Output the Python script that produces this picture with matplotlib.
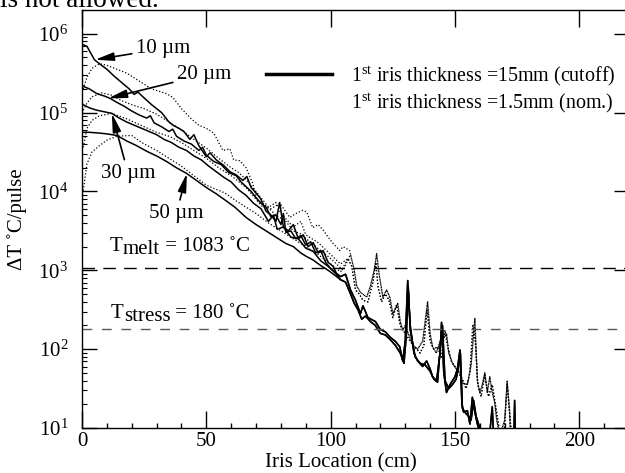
import numpy as np
import matplotlib.pyplot as plt
from matplotlib.lines import Line2D
from matplotlib.transforms import offset_copy

# --- cutoff (1st iris = 15 mm), solid lines: x in cm, log10(dT) ---
cut10_x = [0.5, 2, 5, 7, 10, 13, 16, 19, 21, 22.5, 24.5, 28, 32, 35, 36.6, 39, 41, 43.4, 45, 47, 50, 51.5,
           54, 57, 59.5, 62, 64.7, 66.3, 68, 70, 72, 74, 76, 78, 79.5, 81, 83, 85, 87, 89, 91, 93, 95, 97,
           99, 101, 102.5]
cut10_log = [5.86, 5.84, 5.67, 5.62, 5.55, 5.46, 5.38, 5.30, 5.23, 5.26, 5.20, 5.10, 5.00, 4.88, 4.84, 4.80,
             4.76, 4.66, 4.72, 4.58, 4.44, 4.49, 4.40, 4.33, 4.25, 4.21, 4.14, 4.19, 4.05, 3.98, 3.90, 3.75,
             3.70, 3.62, 3.86, 3.55, 3.50, 3.58, 3.40, 3.45, 3.30, 3.35, 3.22, 3.25, 3.10, 3.05, 2.95]

cut20_x = [0, 3, 6, 9, 11.3, 14, 17, 20, 23, 26, 27.5, 29, 32, 35, 36.5, 38, 41, 44, 47, 48.5, 50, 53, 56,
           59, 62, 64, 66, 68, 70, 72, 74, 76, 78, 80, 81, 82, 84, 86, 88, 90, 92, 94, 96, 98, 100, 102]
cut20_log = [5.34, 5.30, 5.24, 5.21, 5.18, 5.13, 5.08, 5.02, 4.97, 4.93, 4.96, 4.87, 4.82, 4.76, 4.79, 4.70,
             4.64, 4.60, 4.52, 4.56, 4.46, 4.38, 4.34, 4.24, 4.20, 4.12, 4.06, 4.00, 3.92, 3.85, 3.80, 3.68,
             3.70, 3.58, 3.72, 3.48, 3.50, 3.40, 3.44, 3.32, 3.36, 3.22, 3.25, 3.10, 3.02, 2.96]

cut30_x = [0.5, 3, 6, 9, 12, 15, 18, 21, 24, 27, 30, 33, 36, 39, 42, 45, 48, 51, 54, 57, 60, 63, 66, 69,
           72, 75, 77, 78.5, 81, 84, 87, 90, 93, 96, 99, 102]
cut30_log = [5.10, 5.06, 5.03, 5.01, 4.99, 4.93, 4.88, 4.84, 4.80, 4.76, 4.72, 4.66, 4.62, 4.56, 4.52, 4.45,
             4.40, 4.32, 4.25, 4.18, 4.12, 4.02, 3.95, 3.85, 3.78, 3.62, 3.70, 3.52, 3.55, 3.42, 3.40, 3.28,
             3.24, 3.12, 3.05, 2.97]

cut50_x = [0, 3, 7, 10, 14, 18, 22, 26, 30, 34, 38, 42, 46, 50, 54, 58, 61.5, 66, 70, 74, 78, 80, 82, 85,
           88, 90, 93, 96, 99, 102]
cut50_log = [4.75, 4.75, 4.74, 4.73, 4.71, 4.64, 4.58, 4.51, 4.45, 4.38, 4.30, 4.23, 4.14, 4.05, 3.97, 3.88,
             3.80, 3.67, 3.58, 3.50, 3.42, 3.38, 3.34, 3.30, 3.22, 3.18, 3.13, 3.06, 3.00, 2.93]

# merged noisy tails of the solid curves
cut_tailA_x = [104, 106, 108, 110, 112, 113, 115, 118, 120, 122, 124, 126, 127.8, 129, 130, 131, 132, 133.5,
               135, 137, 138.6, 140, 141, 142.6, 144, 144.6, 145.5, 146.6, 148, 150, 151, 152, 152.8, 153.5,
               155, 156, 157, 158, 159, 160, 161, 163, 165, 166, 173.5, 174, 174.5]
cut_tailA_log = [2.92, 2.95, 2.75, 2.62, 2.45, 2.55, 2.40, 2.35, 2.25, 2.22, 2.15, 2.10, 2.03, 1.85, 2.10,
                 2.87, 2.30, 1.95, 1.85, 1.78, 1.85, 1.75, 1.65, 1.60, 1.95, 2.34, 1.70, 1.45, 1.55, 1.65,
                 1.75, 1.99, 1.30, 1.20, 1.22, 1.05, 1.39, 1.20, 1.05, 0.95, 0.6, 0.6, 1.27, 0.6, 0.6, 1.35,
                 0.6]
cut_tailB_x = [104, 106, 108, 109.5, 111, 112.5, 114, 116, 118, 120, 122, 124, 126, 128, 129.5, 130.5, 131.2,
               132, 134, 136, 138, 140, 141.5, 143, 144.3, 145, 146, 147.5, 149, 150.5, 151.5, 152.2, 153,
               154.5, 155.5, 156.5, 157.5, 158.5, 159.5, 160.5, 161]
cut_tailB_log = [2.88, 2.85, 2.70, 2.58, 2.50, 2.38, 2.42, 2.35, 2.30, 2.20, 2.18, 2.12, 2.05, 1.95, 1.82,
                 2.20, 2.80, 2.25, 1.90, 1.82, 1.80, 1.72, 1.62, 1.58, 2.10, 2.30, 1.60, 1.50, 1.55, 1.62,
                 1.80, 1.95, 1.25, 1.18, 1.15, 1.10, 1.35, 1.15, 1.05, 0.95, 0.6]

# --- nominal (1st iris = 1.5 mm), dotted lines ---
nom10_x = [0.5, 2, 4, 7, 10, 14, 18, 21, 25, 28, 31, 34, 36.6, 40, 44, 47, 50, 53, 55, 56.7, 59.5, 61,
           63.5, 66, 68.7, 70.3, 72.7, 76, 79.6, 83.6, 86, 88.8, 90.4, 92.8, 95, 97, 99, 101, 103.7, 105,
           107.7]
nom10_log = [5.30, 5.45, 5.56, 5.62, 5.60, 5.55, 5.50, 5.44, 5.36, 5.30, 5.27, 5.24, 5.19, 5.05, 4.92, 4.84,
             4.80, 4.74, 4.62, 4.52, 4.54, 4.40, 4.39, 4.30, 4.10, 3.89, 3.80, 3.78, 3.85, 3.67, 3.72, 3.76,
             3.74, 3.54, 3.58, 3.51, 3.42, 3.34, 3.25, 3.30, 3.25]

nom20_x = [0.5, 2, 4, 8, 12, 16, 20, 25, 30, 35, 40, 45, 50, 55, 60, 63, 66, 70, 75, 78, 80, 85, 88, 90,
           95, 100, 104]
nom20_log = [5.03, 5.12, 5.20, 5.25, 5.22, 5.15, 5.10, 5.05, 4.98, 4.88, 4.78, 4.66, 4.55, 4.42, 4.30, 4.24,
             4.15, 4.00, 3.80, 3.86, 3.72, 3.55, 3.62, 3.45, 3.35, 3.20, 3.08]

nom30_x = [0.5, 2, 4, 7, 12, 18, 25, 30, 35, 40, 45, 50, 55, 60, 66, 70, 74, 78, 82, 85, 88, 92, 96, 100,
           105]
nom30_log = [4.56, 4.80, 4.90, 4.96, 4.99, 4.92, 4.82, 4.75, 4.70, 4.62, 4.52, 4.42, 4.30, 4.20, 4.05, 3.90,
             3.82, 3.70, 3.62, 3.50, 3.46, 3.35, 3.25, 3.15, 3.00]

nom50_x = [0.5, 2, 4, 7, 10, 14, 20, 24, 30, 35, 40, 45, 50, 57.5, 62, 66, 70, 75, 80, 85, 90, 95, 100, 104]
nom50_log = [4.01, 4.35, 4.50, 4.58, 4.65, 4.70, 4.71, 4.62, 4.52, 4.42, 4.32, 4.20, 4.08, 3.98, 3.88, 3.80,
             3.72, 3.60, 3.50, 3.40, 3.30, 3.20, 3.08, 2.98]

nom_tailA_x = [108, 109.5, 110.5, 112, 114.5, 116, 117.5, 118.5, 119.5, 121, 122.5, 123.8, 125, 127, 128, 129,
               130, 131.8, 133, 135, 137, 138, 139, 140, 141, 142.5, 144, 145.5, 146.6, 147.5, 149, 150.5,
               152, 153, 155, 156.5, 158, 159, 160, 161, 162, 163, 164, 164.8, 166, 166.8, 168, 170, 171,
               172, 172.4]
nom_tailA_log = [3.20, 3.00, 2.80, 2.72, 2.66, 2.80, 3.00, 3.21, 2.95, 2.66, 2.75, 2.66, 2.45, 2.58, 2.35,
                 2.24, 2.30, 2.15, 2.05, 2.00, 2.10, 2.35, 2.60, 2.20, 2.03, 1.95, 2.10, 2.15, 2.20, 1.95,
                 1.82, 1.75, 1.70, 1.57, 1.55, 1.80, 2.39, 1.60, 1.45, 1.55, 1.70, 1.45, 1.65, 1.48, 1.32,
                 1.10, 0.90, 1.10, 1.60, 1.20, 0.80]
nom_tailB_x = [107, 108.5, 110, 111.5, 113, 115, 117, 118.2, 119, 120.5, 122, 123.5, 125, 126.5, 128, 130,
               132, 134, 136, 137.5, 138.8, 140, 141.5, 143, 144.5, 146, 147, 148.5, 150, 151.5, 153, 154.5,
               156, 157.2, 158.2, 159.2, 160.5, 162, 163.5, 165, 166.5, 168, 169.5, 171, 172.5, 173.5]
nom_tailB_log = [3.15, 3.05, 2.75, 2.70, 2.62, 2.60, 2.85, 3.10, 2.80, 2.60, 2.70, 2.62, 2.40, 2.56, 2.30,
                 2.20, 2.10, 2.02, 1.95, 2.05, 2.50, 2.10, 2.00, 2.03, 1.90, 2.24, 2.05, 1.85, 1.78, 1.70,
                 1.62, 1.50, 1.70, 2.30, 2.10, 1.55, 1.40, 1.67, 1.40, 1.55, 1.25, 0.95, 0.80, 1.55, 1.00,
                 0.70]

T_melt = 1083
T_stress = 180

# curve labels: text, text position (x, log), arrow head (x, log)
gap_labels = ["10 \u00b5m", "20 \u00b5m", "30 \u00b5m", "50 \u00b5m"]
gap_text_pos = [(21.7, 5.81), (38.2, 5.48), (7.6, 4.23), (27.0, 3.72)]
gap_arrow_head = [(5.2, 5.67), (10.5, 5.18), (12.0, 4.99), (42.2, 4.23)]

FS = 15


def chain_text(fig, ax, x, y, pieces):
    # pieces: (string, vertical offset in points), written one after another
    renderer = fig.canvas.get_renderer()
    dx = 0.0
    for s, dy in pieces:
        tr = offset_copy(ax.transData, fig=fig, x=dx, y=dy / 72 * fig.dpi, units="dots")
        t = ax.text(x, y, s, transform=tr, ha="left", va="baseline", fontsize=FS)
        dx += t.get_window_extent(renderer).width


def main():
    plt.rcParams.update({
        "font.family": "Liberation Serif",
        "mathtext.fontset": "custom",
        "mathtext.rm": "Liberation Serif",
        "mathtext.it": "Liberation Serif:italic",
        "font.size": FS,
        "axes.linewidth": 1.0,
    })

    fig = plt.figure(figsize=(6.25, 4.73), dpi=100)
    ax = fig.add_axes([82 / 625, 1 - 428 / 473, 547 / 625, 418 / 473])

    solid_sets = [(cut10_x, cut10_log, cut_tailA_x, cut_tailA_log),
                  (cut20_x, cut20_log, cut_tailB_x, cut_tailB_log),
                  (cut30_x, cut30_log, cut_tailA_x, cut_tailA_log),
                  (cut50_x, cut50_log, cut_tailB_x, cut_tailB_log)]
    for hx, hy, tx, ty in solid_sets:
        ax.plot(hx + tx, 10 ** np.array(hy + ty), color="k", lw=1.1)

    dotted_sets = [(nom10_x, nom10_log, nom_tailA_x, nom_tailA_log),
                   (nom20_x, nom20_log, nom_tailB_x, nom_tailB_log),
                   (nom30_x, nom30_log, nom_tailA_x, nom_tailA_log),
                   (nom50_x, nom50_log, nom_tailB_x, nom_tailB_log)]
    for hx, hy, tx, ty in dotted_sets:
        ax.plot(hx + tx, 10 ** np.array(hy + ty), color="k", lw=0.9, ls=(0, (1, 1.6)))

    ax.axhline(T_melt, color="k", lw=1.0, ls=(0, (9, 6)))
    ax.axhline(T_stress, color="0.35", lw=1.0, ls=(0, (7, 7)))

    ax.set_yscale("log")
    ax.set_xlim(0, 220)
    ax.set_ylim(10, 2e6)
    ax.set_xticks([0, 50, 100, 150, 200])
    ax.set_xticks(np.arange(0, 221, 10), minor=True)

    ax.tick_params(axis="x", which="major", direction="in", length=12, width=1, top=True, pad=3,
                   labelsize=FS)
    ax.tick_params(axis="x", which="minor", direction="in", length=3.5, width=1, top=False)
    ax.tick_params(axis="y", which="major", direction="in", length=11, width=1, right=True, pad=10,
                   labelsize=FS)
    ax.tick_params(axis="y", which="minor", direction="in", length=3.5, width=0.8, right=False)

    # threshold labels with full-size lowered subscripts
    chain_text(fig, ax, 11.3, 10 ** 3.25, [("T", 0), ("melt", -2.5), (" = 1083 \u02daC", 0)])
    chain_text(fig, ax, 11.7, 10 ** 2.40, [("T", 0), ("stress", -2.5), (" = 180 \u02daC", 0)])

    for lab, (tx, ty), (hx, hy) in zip(gap_labels, gap_text_pos, gap_arrow_head):
        ax.annotate(lab, xy=(hx, 10 ** hy), xytext=(tx, 10 ** ty), ha="left", va="center", fontsize=FS,
                    arrowprops=dict(arrowstyle="-|>,head_length=0.8,head_width=0.18", color="k",
                                    lw=1.2, mutation_scale=14, shrinkA=1, shrinkB=0))

    ax.set_xlabel("Iris Location (cm)", fontsize=FS)
    ax.xaxis.set_label_coords((341 - 82) / 547, -0.06)
    ax.set_ylabel("\u0394T \u02daC/pulse", fontsize=FS)
    ax.yaxis.set_label_coords(-0.10, 0.5)

    handles = [Line2D([], [], color="k", lw=2.5), Line2D([], [], ls="none")]
    labels = [r"1$^{\rm st}$ iris thickness =15mm (cutoff)", r"1$^{\rm st}$ iris thickness =1.5mm (nom.)"]
    ax.legend(handles, labels, loc="upper left", bbox_to_anchor=(0.336, 0.87), frameon=False,
              fontsize=14.4, handlelength=3.3, handletextpad=0.95, labelspacing=0.15, borderaxespad=0,
              borderpad=0)

    fig.text(0.0, 1 - 7 / 473, "is not allowed.", fontsize=19.5, va="baseline", ha="left")

    fig.savefig("out.png", dpi=100)
    plt.close(fig)


if __name__ == "__main__":
    main()
